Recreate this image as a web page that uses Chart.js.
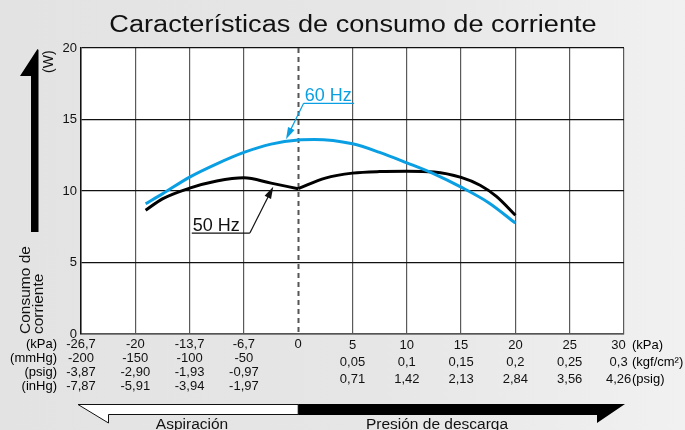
<!DOCTYPE html>
<html>
<head>
<meta charset="utf-8">
<script src="https://cdn.jsdelivr.net/npm/chart.js@4.4.1/dist/chart.umd.min.js"></script>
<style>
  html, body { margin: 0; padding: 0; }
  body {
    width: 685px; height: 430px; overflow: hidden;
    background: linear-gradient(to right, #e3e3e3 0%, #e6e6e6 55%, #f1f1f1 100%);
  }
  canvas { display: block; }
</style>
</head>
<body>
<canvas id="consumo" width="685" height="430"></canvas>
<script>
// columnas del eje X: 0 = -26,7 kPa ... 4 = 0 ... 10 = 30 kPa
const kPa    = ['-26,7', '-20', '-13,7', '-6,7', '0', '5', '10', '15', '20', '25', '30'];
const mmHg   = ['-200', '-150', '-100', '-50'];
const psigVac = ['-3,87', '-2,90', '-1,93', '-0,97'];
const inHg   = ['-7,87', '-5,91', '-3,94', '-1,97'];
const kgfcm2 = ['0,05', '0,1', '0,15', '0,2', '0,25', '0,3'];
const psig   = ['0,71', '1,42', '2,13', '2,84', '3,56', '4,26'];

// 60 Hz
const hz60X = [1.19, 1.5, 2, 2.5, 3, 3.5, 4, 4.3, 5, 5.5, 6, 6.5, 7, 7.5, 8];
const hz60W = [9.11, 9.8, 10.97, 11.9, 12.7, 13.28, 13.57, 13.6, 13.3, 12.7, 11.97, 11.2, 10.27, 9.2, 7.76];

// 50 Hz, lado aspiración y lado descarga (pico en 0 kPa)
const hz50aX = [1.19, 1.5, 2, 2.5, 3, 3.5, 4];
const hz50aW = [8.65, 9.45, 10.2, 10.7, 10.93, 10.55, 10.16];
const hz50dX = [4, 4.5, 5, 5.5, 6, 6.5, 7, 7.35, 7.65, 8];
const hz50dW = [10.16, 10.9, 11.25, 11.36, 11.38, 11.33, 10.95, 10.4, 9.62, 8.3];

const AZUL = '#0a9fe2';
const FUENTE = '"Liberation Sans", Arial, Helvetica, sans-serif';

const pts = (xs, ys) => xs.map((x, i) => ({ x: x, y: ys[i] }));

const linea = (data, color) => ({
  data: data,
  borderColor: color,
  borderWidth: 3,
  pointRadius: 0,
  cubicInterpolationMode: 'monotone',
  borderCapStyle: 'butt',
  fill: false
});

function flecha(ctx, x0, y0, x1, y1, color) {
  const a = Math.atan2(y1 - y0, x1 - x0);
  const len = 12, w = 3.6;
  ctx.strokeStyle = color;
  ctx.fillStyle = color;
  ctx.lineWidth = 1.2;
  ctx.beginPath();
  ctx.moveTo(x0, y0);
  ctx.lineTo(x1 - Math.cos(a) * len * 0.8, y1 - Math.sin(a) * len * 0.8);
  ctx.stroke();
  ctx.beginPath();
  ctx.moveTo(x1, y1);
  ctx.lineTo(x1 - Math.cos(a) * len - Math.sin(a) * w, y1 - Math.sin(a) * len + Math.cos(a) * w);
  ctx.lineTo(x1 - Math.cos(a) * len + Math.sin(a) * w, y1 - Math.sin(a) * len - Math.cos(a) * w);
  ctx.closePath();
  ctx.fill();
}

const decorado = {
  id: 'decorado',
  beforeDraw(chart) {
    const { ctx, chartArea: a } = chart;
    ctx.save();
    ctx.fillStyle = '#ffffff';
    ctx.fillRect(a.left, a.top, a.right - a.left, a.bottom - a.top);
    ctx.restore();
  },
  beforeDatasetsDraw(chart) {
    // línea discontinua en 0 kPa
    const { ctx, chartArea: a, scales: { x } } = chart;
    const px = Math.round(x.getPixelForValue(4)) + 0.5;
    ctx.save();
    ctx.strokeStyle = '#555';
    ctx.lineWidth = 2;
    ctx.setLineDash([5, 4]);
    ctx.beginPath();
    ctx.moveTo(px, a.top);
    ctx.lineTo(px, a.bottom);
    ctx.stroke();
    ctx.restore();
  },
  afterDatasetsDraw(chart) {
    const { ctx, scales: { x, y } } = chart;
    ctx.save();
    // etiqueta 60 Hz
    const u60a = x.getPixelForValue(4.1), u60b = x.getPixelForValue(5.03), u60y = y.getPixelForValue(16.13);
    ctx.font = '18px ' + FUENTE;
    ctx.fillStyle = AZUL;
    ctx.textBaseline = 'alphabetic';
    ctx.textAlign = 'left';
    ctx.fillText('60 Hz', u60a + 1, u60y - 2.5);
    ctx.strokeStyle = AZUL;
    ctx.lineWidth = 1.2;
    ctx.beginPath();
    ctx.moveTo(u60a, u60y); ctx.lineTo(u60b, u60y);
    ctx.stroke();
    flecha(ctx, u60a, u60y, x.getPixelForValue(3.775), y.getPixelForValue(13.62), AZUL);

    // etiqueta 50 Hz
    const u50a = x.getPixelForValue(2.04), u50b = x.getPixelForValue(3.11), u50y = y.getPixelForValue(7.06);
    ctx.fillStyle = '#111';
    ctx.fillText('50 Hz', u50a + 1, u50y - 2.5);
    ctx.strokeStyle = '#111';
    ctx.beginPath();
    ctx.moveTo(u50a, u50y); ctx.lineTo(u50b, u50y);
    ctx.stroke();
    flecha(ctx, u50b, u50y, x.getPixelForValue(3.54), y.getPixelForValue(10.3), '#111');
    ctx.restore();
  },
  afterDraw(chart) {
    const { ctx, chartArea: a, scales: { x } } = chart;
    ctx.save();

    // título (letra algo ensanchada)
    ctx.save();
    ctx.translate(353, 31.5);
    ctx.scale(1.155, 1);
    ctx.fillStyle = '#111';
    ctx.font = '23.5px ' + FUENTE;
    ctx.textAlign = 'center';
    ctx.textBaseline = 'alphabetic';
    ctx.fillText('Características de consumo de corriente', 0, 0);
    ctx.restore();

    // flecha vertical del eje Y
    ctx.fillStyle = '#000';
    ctx.beginPath();
    ctx.moveTo(37.5, 49);
    ctx.lineTo(20, 76);
    ctx.lineTo(31, 76);
    ctx.lineTo(31, 232);
    ctx.lineTo(38.5, 232);
    ctx.lineTo(38.5, 50);
    ctx.closePath();
    ctx.fill();

    // títulos del eje Y (girados)
    ctx.save();
    ctx.rotate(-Math.PI / 2);
    ctx.font = '15.5px ' + FUENTE;
    ctx.textAlign = 'left';
    ctx.textBaseline = 'middle';
    ctx.fillStyle = '#111';
    ctx.fillText('Consumo de', -334, 25.5);
    ctx.fillText('corriente', -334, 39);
    ctx.font = '14px ' + FUENTE;
    ctx.fillText('(W)', -73, 49);
    ctx.restore();

    // unidades del eje X
    ctx.font = '13px ' + FUENTE;
    ctx.textBaseline = 'middle';
    ctx.textAlign = 'right';
    const izq = ['(kPa)', '(mmHg)', '(psig)', '(inHg)'];
    izq.forEach((t, i) => ctx.fillText(t, 57, a.bottom + 10 + i * 14));
    ctx.textAlign = 'left';
    const der = ['(kPa)', '(kgf/cm²)', '(psig)'];
    der.forEach((t, i) => ctx.fillText(t, x.getPixelForValue(10) + 8, a.bottom + 11 + i * 17));

    // flechas inferiores: aspiración (blanca) y presión de descarga (negra)
    const x0 = x.getPixelForValue(4);
    ctx.fillStyle = '#fff';
    ctx.strokeStyle = '#111';
    ctx.lineWidth = 1;
    ctx.beginPath();
    ctx.moveTo(x0, 404.5);
    ctx.lineTo(78, 404.5);
    ctx.lineTo(108.5, 423);
    ctx.lineTo(108.5, 414.5);
    ctx.lineTo(x0, 414.5);
    ctx.closePath();
    ctx.fill();
    ctx.stroke();

    ctx.fillStyle = '#000';
    ctx.beginPath();
    ctx.moveTo(x0, 404);
    ctx.lineTo(625, 404);
    ctx.lineTo(597, 423);
    ctx.lineTo(597, 415);
    ctx.lineTo(x0, 415);
    ctx.closePath();
    ctx.fill();

    ctx.fillStyle = '#111';
    ctx.font = '15.5px ' + FUENTE;
    ctx.textAlign = 'center';
    ctx.textBaseline = 'alphabetic';
    ctx.fillText('Aspiración', 192, 429);
    ctx.fillText('Presión de descarga', 437, 429);

    ctx.restore();
  }
};

new Chart(document.getElementById('consumo'), {
  type: 'line',
  data: {
    datasets: [
      linea(pts(hz60X, hz60W), AZUL),
      linea(pts(hz50aX, hz50aW), '#000'),
      linea(pts(hz50dX, hz50dW), '#000')
    ]
  },
  options: {
    responsive: false,
    animation: false,
    layout: { padding: { left: 0, right: 61, top: 48, bottom: 0 } },
    plugins: {
      legend: { display: false },
      tooltip: { enabled: false },
      title: { display: false }
    },
    scales: {
      x: {
        type: 'linear',
        min: 0,
        max: 10,
        afterFit(scale) { scale.height = 96; },
        grid: {
          drawTicks: false,
          color: c => (c.tick && c.tick.value === 4) ? 'rgba(0,0,0,0)' : '#5a5a5a',
          lineWidth: 1.2
        },
        border: { color: '#555', width: 1.5 },
        ticks: {
          stepSize: 1,
          autoSkip: false,
          maxRotation: 0,
          padding: 3,
          color: '#111',
          font: c => ({
            family: FUENTE,
            size: 13,
            lineHeight: (c.tick && c.tick.value > 4) ? 17 / 13 : 14 / 13
          }),
          callback: v => {
            const i = Math.round(v);
            if (i < 4) return [kPa[i], mmHg[i], psigVac[i], inHg[i]];
            if (i === 4) return kPa[i];
            // la última columna se corre a la izquierda para dejar sitio a las unidades
            const fin = i === 10 ? '   ' : '';
            return [kPa[i] + fin, kgfcm2[i - 5] + fin, psig[i - 5] + fin];
          }
        }
      },
      y: {
        min: 0,
        max: 20,
        afterFit(scale) { scale.width = 81; },
        grid: { drawTicks: false, color: '#111', lineWidth: 1.2 },
        border: { color: '#111', width: 1.5 },
        ticks: {
          stepSize: 5,
          padding: 4,
          color: '#111',
          font: { family: FUENTE, size: 13 }
        }
      }
    }
  },
  plugins: [decorado]
});
</script>
</body>
</html>
